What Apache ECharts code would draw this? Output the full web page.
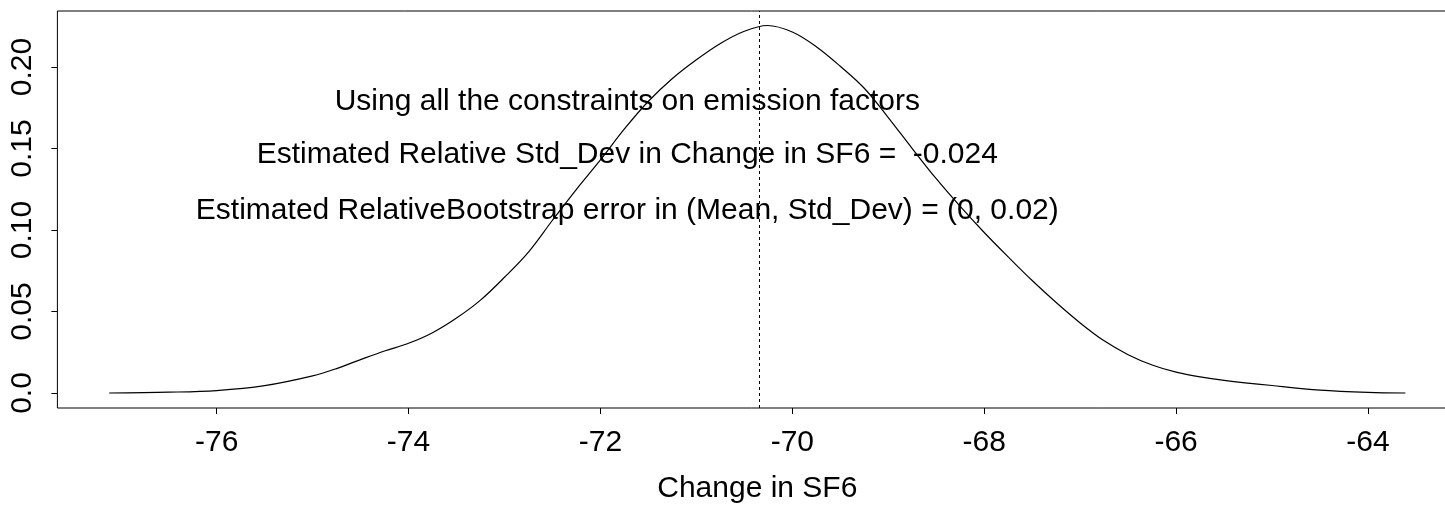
<!DOCTYPE html>
<html>
<head>
<meta charset="utf-8">
<script src="https://cdn.jsdelivr.net/npm/echarts@6/dist/echarts.min.js"></script>
<style>
html,body{margin:0;padding:0;background:#fff;}
#chart{width:1445px;height:505px;}
</style>
</head>
<body>
<div id="chart"></div>
<script>
// Density curve values
var densX = [-77.12,-76.5,-76.0,-75.5,-75.0,-74.75,-74.5,-74.25,-74.0,-73.75,-73.5,-73.25,-73.0,-72.75,-72.5,-72.25,-72.0,-71.75,-71.5,-71.25,-71.0,-70.75,-70.5,-70.26,-70.0,-69.75,-69.5,-69.25,-69.0,-68.75,-68.5,-68.25,-68.0,-67.75,-67.5,-67.25,-67.0,-66.75,-66.5,-66.25,-66.0,-65.75,-65.5,-65.0,-64.5,-64.0,-63.61];
var densY = [0,0.0005,0.0015,0.0045,0.0105,0.015,0.0205,0.0258,0.0305,0.037,0.046,0.057,0.071,0.0865,0.106,0.125,0.143,0.162,0.179,0.193,0.2045,0.2145,0.222,0.2255,0.2215,0.2125,0.2005,0.187,0.169,0.150,0.1315,0.1145,0.0985,0.0835,0.069,0.0555,0.043,0.032,0.0235,0.0172,0.0128,0.0099,0.0078,0.0046,0.0018,0.0004,0];
var meanLine = -70.34;
var xTicks = [-76,-74,-72,-70,-68,-66,-64];
var yTicks = [0,0.05,0.10,0.15,0.20];
var yTickLabels = ["0.0","0.05","0.10","0.15","0.20"];
var noteX = -71.72;
var noteY = [0.179,0.146,0.112];
var noteText = ["Using all the constraints on emission factors",
                "Estimated Relative Std_Dev in Change in SF6 =  -0.024",
                "Estimated RelativeBootstrap error in (Mean, Std_Dev) = (0, 0.02)"];
var xName = "Change in SF6";

var FONT = "'Liberation Sans', Arial, Helvetica, sans-serif";
var FS = 30;
var lineData = densX.map(function(x,i){return [x, densY[i]];});
var noteData = noteText.map(function(t,i){return {value:[noteX, noteY[i]], name:t};});

var chart = echarts.init(document.getElementById('chart'), null, {renderer:'canvas'});
chart.setOption({
  animation:false,
  backgroundColor:'#fff',
  grid:{left:57.4, width:1399.8, top:11, height:397, containLabel:false, outerBoundsMode:'none',
        show:true, borderColor:'#000', borderWidth:1, backgroundColor:'transparent'},
  xAxis:{
    type:'value', min:-77.66, max:-63.07,
    name:xName, nameLocation:'middle', nameGap:66,
    nameTextStyle:{fontFamily:FONT, fontSize:FS, color:'#000'},
    axisLine:{show:false, onZero:false},
    axisTick:{show:true, length:6, customValues:xTicks, lineStyle:{color:'#000', width:1}},
    axisLabel:{show:true, customValues:xTicks, margin:20, fontFamily:FONT, fontSize:FS, color:'#000',
      formatter:function(v){return String(v);}},
    splitLine:{show:false}
  },
  yAxis:{
    type:'value', min:-0.0092, max:0.2344,
    axisLine:{show:false, onZero:false},
    axisTick:{show:true, length:6, customValues:yTicks, lineStyle:{color:'#000', width:1}},
    axisLabel:{show:true, customValues:yTicks, rotate:90, margin:20, fontFamily:FONT, fontSize:FS, color:'#000',
      formatter:function(v){var i=yTicks.findIndex(function(t){return Math.abs(t-v)<1e-9;}); return i>=0?yTickLabels[i]:'';}},
    splitLine:{show:false}
  },
  series:[
    {type:'line', data:lineData, showSymbol:false, smooth:0.35, silent:true,
     lineStyle:{color:'#000', width:1.2},
     markLine:{silent:true, symbol:['none','none'], label:{show:false},
       lineStyle:{color:'#000', width:1, type:[3,3]},
       data:[{xAxis:meanLine}]}},
    {type:'scatter', data:noteData, symbolSize:0, silent:true,
     itemStyle:{color:'#000', opacity:1},
     label:{show:true, position:'inside', formatter:'{b}', fontFamily:FONT, fontSize:FS, color:'#000',
       textBorderWidth:0, textBorderColor:'transparent', opacity:1}}
  ]
});
</script>
</body>
</html>
